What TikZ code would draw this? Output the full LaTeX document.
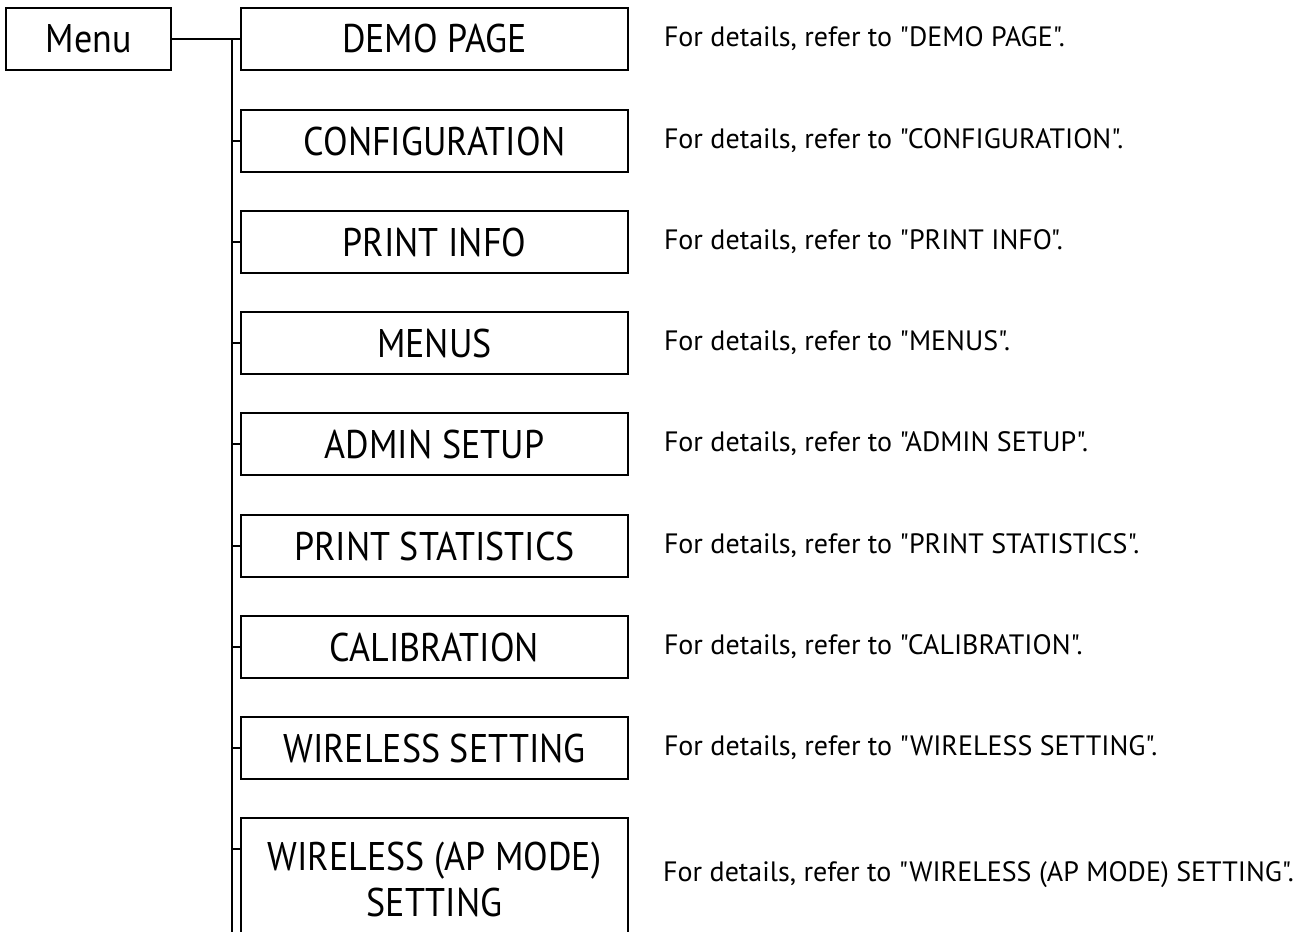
\documentclass[tikz,border=0pt]{standalone}
\usepackage{fontspec}
\setmainfont{PT Sans}[Ligatures=TeXOff]
\newfontfamily\boxfont{PT Sans}[Ligatures=TeXOff, FakeStretch=0.9]
\usetikzlibrary{positioning}
\begin{document}
\begin{tikzpicture}[x=1pt, y=-1pt,
    menubox/.style={draw, rectangle, line width=1.6pt, minimum width=387pt, minimum height=62pt, inner sep=0pt, font=\boxfont\fontsize{40}{46}\selectfont},
    desc/.style={anchor=west, inner sep=0pt, font=\fontsize{28}{32}\selectfont},
    link/.style={line width=1.3pt}]
    \useasboundingbox (0,0) rectangle (1300,931);
    % Nodos
    \node[menubox, minimum width=165pt] (menu) at (88.5,39) {Menu};
    \coordinate (trunk) at (232,39);
    \coordinate (trunkend) at (232,940);

    \node[menubox] (demo) at (434.5,39) {DEMO PAGE};
    \node[menubox] (config) at (434.5,141) {CONFIGURATION};
    \node[menubox] (info) at (434.5,242) {PRINT INFO};
    \node[menubox] (menus) at (434.5,343) {MENUS};
    \node[menubox] (admin) at (434.5,444) {ADMIN SETUP};
    \node[menubox] (stats) at (434.5,546) {PRINT STATISTICS};
    \node[menubox] (calib) at (434.5,647) {CALIBRATION};
    \node[menubox] (wifi) at (434.5,748) {WIRELESS SETTING};
    \node[menubox, minimum height=122pt, align=center] (apmode) at (434.5,879) {WIRELESS (AP MODE)\\SETTING};

    \node[desc, right=35pt of demo] (ddemo) {For details, refer to "DEMO PAGE".};
    \node[desc, right=35pt of config] (dconfig) {For details, refer to "CONFIGURATION".};
    \node[desc, right=35pt of info] (dinfo) {For details, refer to "PRINT INFO".};
    \node[desc, right=35pt of menus] (dmenus) {For details, refer to "MENUS".};
    \node[desc, right=35pt of admin] (dadmin) {For details, refer to "ADMIN SETUP".};
    \node[desc, right=35pt of stats] (dstats) {For details, refer to "PRINT STATISTICS".};
    \node[desc, right=35pt of calib] (dcalib) {For details, refer to "CALIBRATION".};
    \node[desc, right=35pt of wifi] (dwifi) {For details, refer to "WIRELESS SETTING".};
    \node[desc] (dapmode) at (663,875) {For details, refer to "WIRELESS (AP MODE) SETTING".};

    % Lineas
    \draw[link] (menu.east) -- (demo.west);
    \draw[link] (trunk) -- (trunkend);
    \foreach \n in {config, info, menus, admin, stats, calib, wifi}
        \draw[link] (trunk |- \n.west) -- (\n.west);
    \draw[link] (trunk |- 0,849) -- (apmode.west |- 0,849);
\end{tikzpicture}
\end{document}
